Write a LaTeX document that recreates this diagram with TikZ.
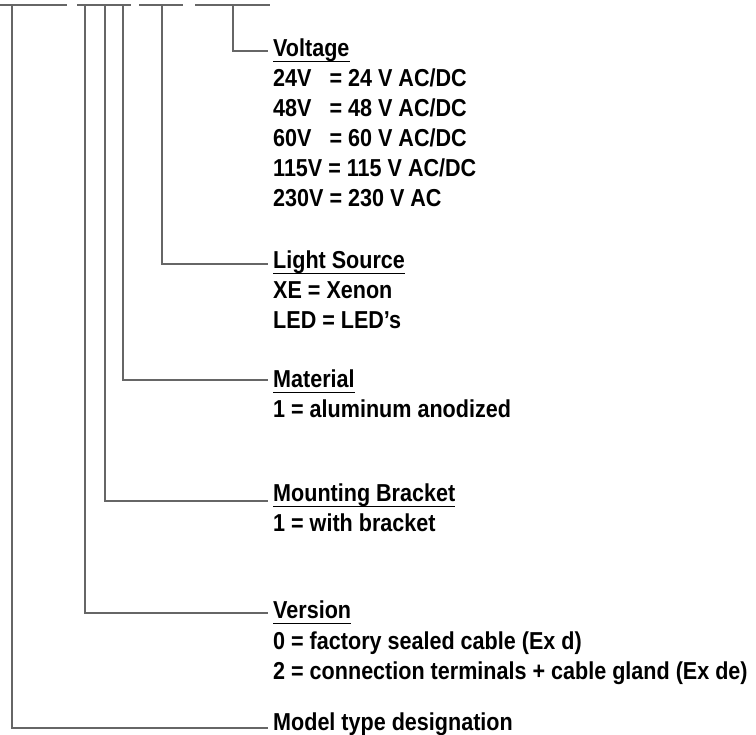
\documentclass[tikz,border=0pt]{standalone}
\usepackage{fontspec}
\setmainfont[FakeStretch=0.88]{Liberation Sans}
\tikzset{
	bar/.style={line width=2.2pt, draw=black!60},
	lead/.style={line width=2pt, draw=black!60},
	uline/.style={line width=1.6pt, draw=black},
	head/.style={anchor=base west, inner sep=0pt, font=\bfseries\fontsize{24.5}{30}\selectfont},
	val/.style={head}
}

\begin{document}
\begin{tikzpicture}[x=1pt, y=-1pt]
		%%%%% START %%%%%
		\useasboundingbox (0,0) rectangle (756,735);
		
		% code bars
		\draw[bar] (0,5) -- (67,5);
		\draw[bar] (77,5) -- (131,5);
		\draw[bar] (139,5) -- (183,5);
		\draw[bar] (195,5) -- (270,5);
		
		\coordinate (tModel) at (12,5);
		\coordinate (tVers) at (85,5);
		\coordinate (tMount) at (105,5);
		\coordinate (tMat) at (123,5);
		\coordinate (tLight) at (162,5);
		\coordinate (tVolt) at (233,5);
		
		% Voltage
		\node[head] (volt) at (273,57) {Voltage};
		\foreach \t [count=\i] in {24V\hphantom{0} = 24 V AC/DC, 48V\hphantom{0} = 48 V AC/DC, 60V\hphantom{0} = 60 V AC/DC, 115V = 115 V AC/DC, 230V = 230 V AC}
			\node[val] (volt\i) at (273,57+30*\i) {\t};
		
		% Light Source
		\node[head] (light) at (273,269) {Light Source};
		\node[val] (light1) at (273,299) {XE = Xenon};
		\node[val] (light2) at (273,329) {LED = LED’s};
		
		% Material
		\node[head] (mat) at (273,388) {Material};
		\node[val] (mat1) at (273,418) {1 = aluminum anodized};
		
		% Mounting Bracket
		\node[head] (mount) at (273,502) {Mounting Bracket};
		\node[val] (mount1) at (273,532) {1 = with bracket};
		
		% Version
		\node[head] (vers) at (273,619) {Version};
		\node[val] (vers1) at (273,649) {0 = factory sealed cable (Ex d)};
		\node[val] (vers2) at (273,679) {2 = connection terminals + cable gland (Ex de)};
		
		% Model type
		\node[head] (model) at (273,730) {Model type designation};
		
		% underlines
		\foreach \h in {volt,light,mat,mount,vers}
			\draw[uline] ([yshift=-4.5pt]\h.base west) -- ([yshift=-4.5pt]\h.base east);
		
		% leads
		\draw[lead] (tVolt) |- ([xshift=-5pt,yshift=6pt]volt.base west);
		\draw[lead] (tLight) |- ([xshift=-5pt,yshift=5pt]light.base west);
		\draw[lead] (tMat) |- ([xshift=-5pt,yshift=8pt]mat.base west);
		\draw[lead] (tMount) |- ([xshift=-5pt,yshift=1pt]mount.base west);
		\draw[lead] (tVers) |- ([xshift=-5pt,yshift=6pt]vers.base west);
		\draw[lead] (tModel) |- ([xshift=-5pt,yshift=2pt]model.base west);
		%%%%% END %%%%%
\end{tikzpicture}
\end{document}
